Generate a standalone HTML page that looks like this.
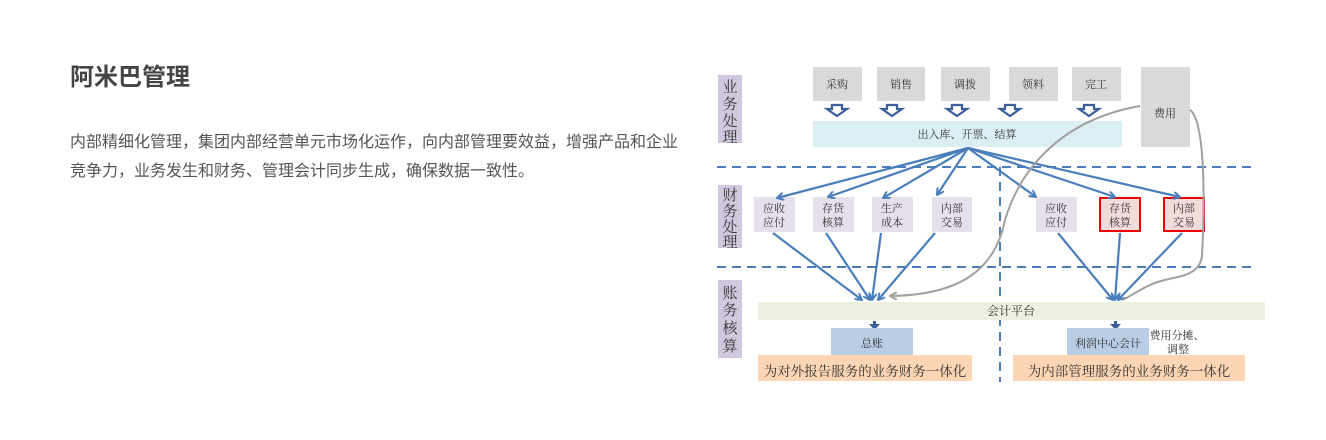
<!DOCTYPE html>
<html><head><meta charset="utf-8"><style>
body{margin:0;width:1326px;height:440px;background:#fff;position:relative;overflow:hidden;font-family:"Liberation Sans","Noto Sans CJK SC",sans-serif}
h1{position:absolute;left:70px;top:62px;margin:0;font-size:24px;line-height:32px;color:#444;font-weight:bold}
p{position:absolute;left:70px;top:128px;margin:0;width:640px;font-size:16px;line-height:29px;color:#555;letter-spacing:0}
svg{position:absolute;left:0;top:0}
svg text{font-family:"Liberation Serif","Noto Serif CJK SC",serif;fill:#333}
</style></head><body>
<h1>阿米巴管理</h1>
<p>内部精细化管理，集团内部经营单元市场化运作，向内部管理要效益，增强产品和企业<br>竞争力，业务发生和财务、管理会计同步生成，确保数据一致性。</p>
<svg width="1326" height="440" viewBox="0 0 1326 440">
<defs><marker id="a" markerWidth="8" markerHeight="8" refX="7" refY="4" orient="auto" markerUnits="userSpaceOnUse"><path d="M0,0 L7,4 L0,8" fill="none" stroke="#4a7ebb" stroke-width="2"/></marker>
<marker id="g" markerWidth="8" markerHeight="8" refX="7" refY="4" orient="auto" markerUnits="userSpaceOnUse"><path d="M0,0 L7,4 L0,8" fill="none" stroke="#a0a0a0" stroke-width="2"/></marker></defs>
<rect x="718" y="75" width="24" height="68" fill="#d0c8de"/>
<rect x="718" y="185" width="24" height="63" fill="#d0c8de"/>
<rect x="718" y="280" width="24" height="78" fill="#d0c8de"/>
<g font-size="15" text-anchor="middle">
<text x="730" y="92">业</text><text x="730" y="109">务</text><text x="730" y="126">处</text><text x="730" y="142">理</text>
<text x="730" y="200">财</text><text x="730" y="216">务</text><text x="730" y="232">处</text><text x="730" y="247">理</text>
<text x="730" y="298">账</text><text x="730" y="315">务</text><text x="730" y="333">核</text><text x="730" y="351">算</text>
</g>
<g fill="#d9d9d9"><rect x="813" y="67" width="49" height="34"/><rect x="877" y="67" width="48" height="34"/><rect x="941" y="67" width="49" height="34"/><rect x="1009" y="67" width="49" height="34"/><rect x="1072" y="67" width="49" height="34"/><rect x="1141" y="67" width="49" height="80"/></g>
<g font-size="11" text-anchor="middle"><text x="837" y="88">采购</text><text x="901" y="88">销售</text><text x="965" y="88">调拨</text><text x="1033" y="88">领料</text><text x="1096" y="88">完工</text><text x="1165" y="117">费用</text></g>
<g fill="none" stroke="#3a5f9a" stroke-width="2.2">
<path d="M832,105 V109 H827 L837,116 L847,109 H842 V105 Z"/>
<path d="M887,105 V109 H882 L892,116 L902,109 H897 V105 Z"/>
<path d="M952,105 V109 H947 L957,116 L967,109 H962 V105 Z"/>
<path d="M1005,105 V109 H1000 L1010,116 L1020,109 H1015 V105 Z"/>
<path d="M1084,105 V109 H1079 L1089,116 L1099,109 H1094 V105 Z"/>
</g>
<rect x="813" y="121" width="309" height="26" fill="#daeef3"/>
<text x="967" y="138" font-size="11" text-anchor="middle">出入库、开票、结算</text>
<g stroke="#4a7ebb" stroke-width="2" stroke-dasharray="9,6"><line x1="717" y1="167" x2="1255" y2="167"/><line x1="717" y1="267" x2="1255" y2="267"/><line x1="1000" y1="167" x2="1000" y2="382"/></g>
<g fill="#e6e0ec"><rect x="754" y="197" width="41" height="35"/><rect x="813" y="197" width="41" height="35"/><rect x="872" y="197" width="41" height="35"/><rect x="932" y="197" width="40" height="35"/><rect x="1036" y="197" width="41" height="35"/></g>
<g fill="#f2dcdb" stroke="#e00" stroke-width="2"><rect x="1100" y="198" width="40" height="33"/><rect x="1164" y="198" width="40" height="33"/></g>
<g font-size="11" text-anchor="middle">
<text x="774" y="212">应收</text><text x="774" y="226">应付</text>
<text x="833" y="212">存货</text><text x="833" y="226">核算</text>
<text x="892" y="212">生产</text><text x="892" y="226">成本</text>
<text x="952" y="212">内部</text><text x="952" y="226">交易</text>
<text x="1056" y="212">应收</text><text x="1056" y="226">应付</text>
<text x="1120" y="212">存货</text><text x="1120" y="226">核算</text>
<text x="1184" y="212">内部</text><text x="1184" y="226">交易</text>
</g>
<g stroke="#4a7ebb" stroke-width="2.2" fill="none" marker-end="url(#a)">
<line x1="968" y1="148" x2="777" y2="198"/><line x1="968" y1="148" x2="828" y2="197"/><line x1="968" y1="148" x2="883" y2="198"/><line x1="968" y1="148" x2="937" y2="195"/>
<line x1="968" y1="148" x2="1036" y2="197"/><line x1="968" y1="148" x2="1115" y2="197"/><line x1="968" y1="148" x2="1180" y2="197"/>
<line x1="773" y1="233" x2="862" y2="300"/><line x1="826" y1="233" x2="870" y2="300"/><line x1="881" y1="233" x2="872" y2="300"/><line x1="935" y1="233" x2="878" y2="300"/>
<line x1="1058" y1="233" x2="1113" y2="300"/><line x1="1120" y1="233" x2="1115" y2="300"/><line x1="1182" y1="233" x2="1118" y2="300"/>
</g>
<g stroke="#a0a0a0" stroke-width="2" fill="none">
<path d="M1140,106 C1060,120 1020,170 1005,220 C995,270 960,295 890,296" marker-end="url(#g)"/>
<path d="M1190,110 C1205,120 1205,200 1202,255 C1200,280 1170,275 1150,285 C1135,292 1128,298 1122,300"/>
</g>
<rect x="758" y="302" width="507" height="18" fill="#ebf1de"/>
<text x="1011" y="315" font-size="12" text-anchor="middle">会计平台</text>
<g fill="#3a5f9a"><rect x="873" y="321" width="3" height="4"/><path d="M869,324 L880,324 L874.5,330 Z"/><rect x="1114" y="321" width="3" height="4"/><path d="M1110,324 L1121,324 L1115.5,330 Z"/></g>
<rect x="831" y="328" width="82" height="28" fill="#b9cde5"/>
<rect x="1067" y="328" width="82" height="28" fill="#b9cde5"/>
<text x="872" y="347" font-size="11" text-anchor="middle">总账</text>
<text x="1108" y="347" font-size="11" text-anchor="middle">利润中心会计</text>
<text x="1177" y="339" font-size="11" text-anchor="middle">费用分摊、</text>
<text x="1178" y="353" font-size="11" text-anchor="middle">调整</text>
<rect x="758" y="355" width="214" height="26" fill="#fcd5b5"/>
<rect x="1013" y="355" width="232" height="26" fill="#fcd5b5"/>
<text x="865" y="376" font-size="13.5" text-anchor="middle">为对外报告服务的业务财务一体化</text>
<text x="1129" y="376" font-size="13.5" text-anchor="middle">为内部管理服务的业务财务一体化</text>
</svg>
</body></html>
